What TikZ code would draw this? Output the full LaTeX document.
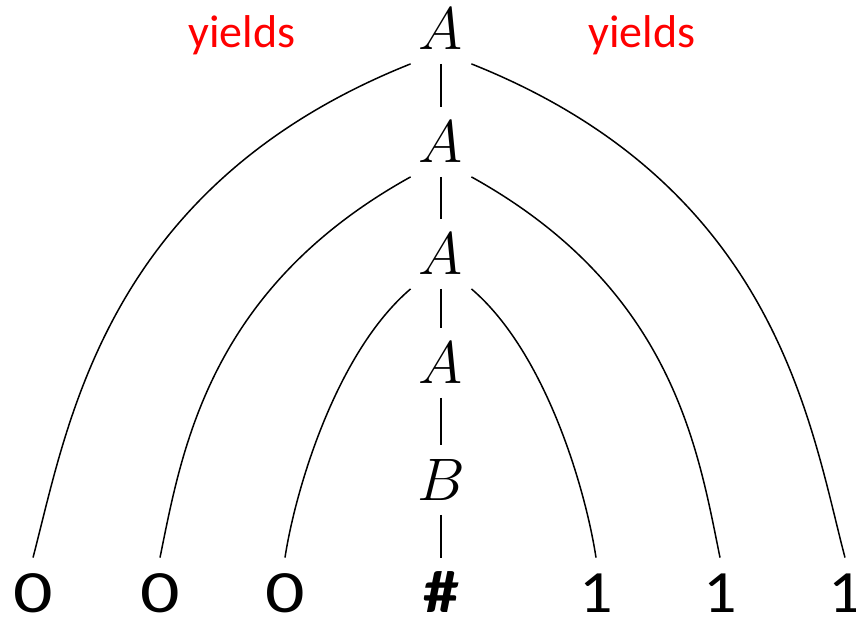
\RequirePackage{fix-cm}
\documentclass[tikz,border=0pt]{standalone}
\usepackage{fontspec}
\usepackage{graphicx}
\newfontfamily\calfont{Carlito}
\newcommand{\wide}[2][1.3]{\scalebox{#1}[1]{#2}}

\begin{document}
\begin{tikzpicture}[
    x=0.5pt, y=-0.5pt,
    sym/.style={inner xsep=4pt, inner ysep=7pt, font=\fontsize{30}{36}\selectfont},
    leaf/.style={inner xsep=2pt, inner ysep=2pt, text height=25pt, text depth=0pt,
                 font=\calfont\fontsize{30}{36}\selectfont},
    note/.style={anchor=base, text=red, font=\calfont\fontsize{23}{28}\selectfont},
    edge/.style={line width=0.75pt}
  ]
  \useasboundingbox (0,0) rectangle (856,621);

  % ===== spine of the derivation =====
  \node[sym] (a1) at (441,29)  {$A$};
  \node[sym] (a2) at (441,142) {$A$};
  \node[sym] (a3) at (441,254) {$A$};
  \node[sym] (a4) at (441,363) {$A$};
  \node[sym] (b)  at (441,480) {$B$};

  % ===== yield =====
  \node[leaf] (z1)   at (33,587)  {\wide{0}};
  \node[leaf] (z2)   at (160,587) {\wide{0}};
  \node[leaf] (z3)   at (285,587) {\wide{0}};
  \node[leaf] (hash) at (441,587) {\wide[1.2]{\textbf{\#}}};
  \node[leaf] (o1)   at (596,587) {\wide[1.1]{1}};
  \node[leaf] (o2)   at (720,587) {\wide[1.1]{1}};
  \node[leaf] (o3)   at (845,587) {\wide[1.1]{1}};

  \node[note] (yl) at (242,47) {yields};
  \node[note] (yr) at (642,47) {yields};

  \foreach \u/\v in {a1/a2, a2/a3, a3/a4, a4/b, b/hash}
    \draw[edge] (\u) -- (\v);

  % ===== nested arcs, outer to inner =====
  \draw[edge] (a1.south west) .. controls +(-306,122) and +(35,-133) .. (z1.north);
  \draw[edge] (a1.south east) .. controls +(306,122) and +(-35,-133) .. (o3.north);
  \draw[edge] (a2.south west) .. controls +(-202,112) and +(22,-108) .. (z2.north);
  \draw[edge] (a2.south east) .. controls +(202,112) and +(-22,-108) .. (o2.north);
  \draw[edge] (a3.south west) .. controls +(-75,64) and +(10,-66) .. (z3.north);
  \draw[edge] (a3.south east) .. controls +(75,64) and +(-10,-66) .. (o1.north);

\end{tikzpicture}
\end{document}
